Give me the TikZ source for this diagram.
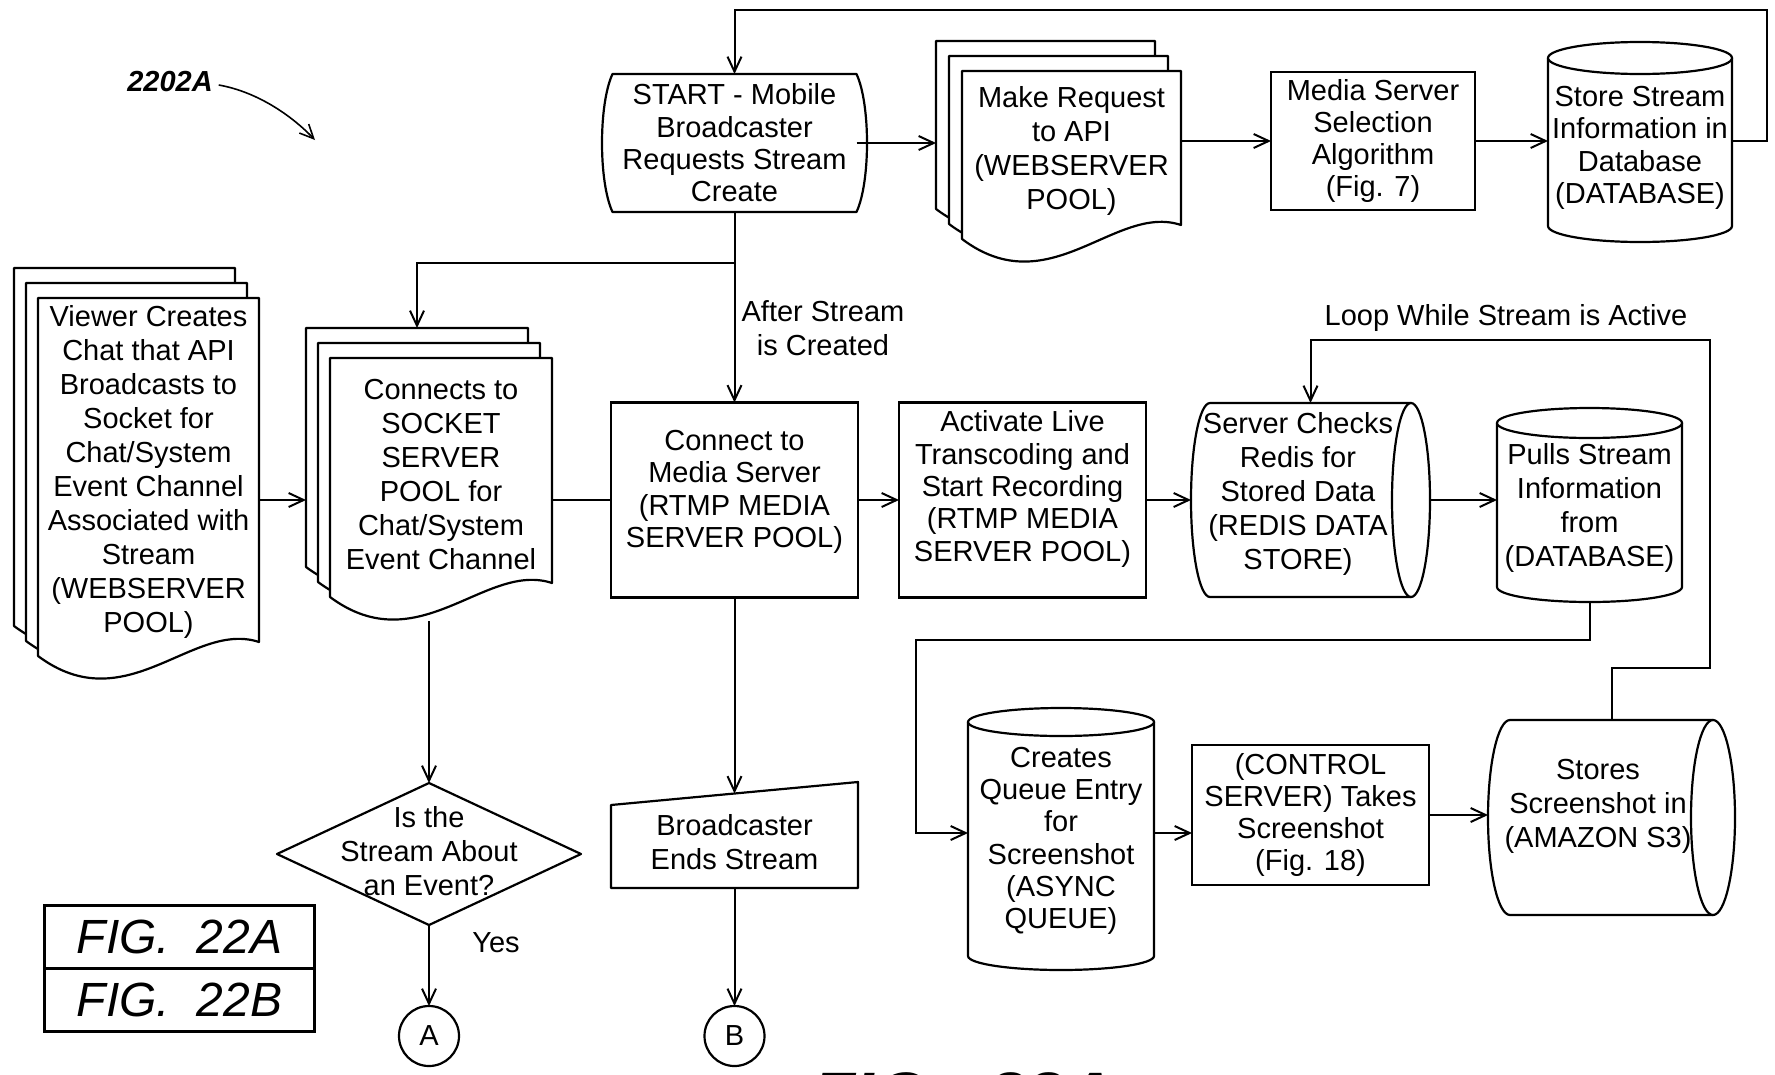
\documentclass[tikz,border=0pt]{standalone}
\usepackage{fontspec}
\setmainfont{Liberation Sans}
\usetikzlibrary{arrows.meta,calc,backgrounds}
\newcommand\mainfs{\fontsize{29}{34}\selectfont}
\newcommand\tightfs{\fontsize{29}{32.3}\selectfont}
\newcommand\figfs{\fontsize{48}{50}\selectfont\itshape}
\tikzset{
  every node/.style={inner sep=0pt, outer sep=0pt},
  txt/.style={font=\mainfs, align=center},
  ghost/.style={txt, rectangle},
  box/.style={txt, rectangle, draw, line width=2.2pt},
  outline/.style={draw, fill=white, line width=2.2pt, line join=round},
  wire/.style={line width=2pt},
  conn/.style={wire, -{Straight Barb[length=15pt,width=14pt]}},
  refarrow/.style={line width=1.6pt, -{Straight Barb[length=14pt,width=13pt]}},
  conncirc/.style={circle, draw, line width=2.2pt, minimum size=60, font=\mainfs},
}
% document sheet: left, top, right, bottom of right side
\newcommand\docsheet[4]{%
  \pgfmathsetmacro\zzl{#1}\pgfmathsetmacro\zzt{#2}\pgfmathsetmacro\zzr{#3}\pgfmathsetmacro\zzb{#4}%
  \pgfmathsetmacro\zzw{\zzr-\zzl}%
  \path[outline] (\zzl,\zzt) -- (\zzr,\zzt) -- (\zzr,\zzb)
    .. controls ({\zzr-0.3*\zzw},{\zzb-22}) and ({\zzl+0.4*\zzw},{\zzb+80}) .. (\zzl,{\zzb+14}) -- cycle;}
\newcommand\docstack[6]{%
  \docsheet{#1-2*#5}{#2-2*#6}{#3-2*#5}{#4-2*#6}%
  \docsheet{#1-#5}{#2-#6}{#3-#5}{#4-#6}%
  \docsheet{#1}{#2}{#3}{#4}}
% vertical cylinder: left, top, right, bottom, y radius
\newcommand\vcyl[5]{%
  \pgfmathsetmacro\zzl{#1}\pgfmathsetmacro\zzt{#2}\pgfmathsetmacro\zzr{#3}\pgfmathsetmacro\zzb{#4}\pgfmathsetmacro\zzry{#5}%
  \pgfmathsetmacro\zzcx{(\zzl+\zzr)/2}\pgfmathsetmacro\zzrx{(\zzr-\zzl)/2}%
  \pgfmathsetmacro\zzu{\zzt+\zzry}\pgfmathsetmacro\zzd{\zzb-\zzry}%
  \path[outline] (\zzl,\zzu) -- (\zzl,\zzd)
    .. controls (\zzl,{\zzd+0.552*\zzry}) and ({\zzcx-0.552*\zzrx},\zzb) .. (\zzcx,\zzb)
    .. controls ({\zzcx+0.552*\zzrx},\zzb) and (\zzr,{\zzd+0.552*\zzry}) .. (\zzr,\zzd)
    -- (\zzr,\zzu) -- cycle;
  \path[outline] (\zzcx,\zzu) ellipse [x radius=\zzrx pt, y radius=\zzry pt];}
% horizontal cylinder: left, top, right, bottom, x radius
\newcommand\hcyl[5]{%
  \pgfmathsetmacro\zzl{#1}\pgfmathsetmacro\zzt{#2}\pgfmathsetmacro\zzr{#3}\pgfmathsetmacro\zzb{#4}\pgfmathsetmacro\zzrx{#5}%
  \pgfmathsetmacro\zzcy{(\zzt+\zzb)/2}\pgfmathsetmacro\zzry{(\zzb-\zzt)/2}%
  \pgfmathsetmacro\zzL{\zzl+\zzrx}\pgfmathsetmacro\zzR{\zzr-\zzrx}%
  \path[outline] (\zzL,\zzt) -- (\zzR,\zzt) -- (\zzR,\zzb) -- (\zzL,\zzb)
    .. controls ({\zzL-0.552*\zzrx},\zzb) and (\zzl,{\zzcy+0.552*\zzry}) .. (\zzl,\zzcy)
    .. controls (\zzl,{\zzcy-0.552*\zzry}) and ({\zzL-0.552*\zzrx},\zzt) .. (\zzL,\zzt) -- cycle;
  \path[outline] (\zzR,\zzcy) ellipse [x radius=\zzrx pt, y radius=\zzry pt];}
\begin{document}
\begin{tikzpicture}[x=1pt,y=-1pt]
\useasboundingbox (0,0) rectangle (1775,1074);

% ---------- row 1
\node[ghost, minimum width=244, minimum height=138, font=\tightfs] (start) at (734.5,143) {START - Mobile\\Broadcaster\\Requests Stream\\Create};
\node[ghost, minimum width=245, minimum height=193] (mreq) at (1058.5,138.5) {};
\node[txt] (mreqt) at (1071.5,151) {Make Request\\to API\\(WEBSERVER\\POOL)};
\node[box, minimum width=204, minimum height=138, font=\tightfs] (sel) at (1373,141) {Media Server\\Selection\\Algorithm\\(Fig. 7)};
\node[ghost, minimum width=184, minimum height=200] (store) at (1640,142) {};
\node[txt, font=\tightfs] (storet) at (1640,148) {Store Stream\\Information in\\Database\\(DATABASE)};

% ---------- row 2
\node[ghost, minimum width=245, minimum height=405] (viewer) at (136.5,470.5) {};
\node[txt] (viewert) at (148.5,472) {Viewer Creates\\Chat that API\\Broadcasts to\\Socket for\\Chat/System\\Event Channel\\Associated with\\Stream\\(WEBSERVER\\POOL)};
\node[ghost, minimum width=246, minimum height=293] (conns) at (429,474.5) {};
\node[txt] (connst) at (441,475) {Connects to\\SOCKET\\SERVER\\POOL for\\Chat/System\\Event Channel};
\node[box, minimum width=247, minimum height=195] (connect) at (734.5,500) {};
\node[txt, font=\tightfs] (connectt) at (734.5,492) {Connect to\\Media Server\\(RTMP MEDIA\\SERVER POOL)};
\node[box, minimum width=247, minimum height=195] (activate) at (1022.5,500) {};
\node[txt, font=\tightfs] (activatet) at (1022.5,489) {Activate Live\\Transcoding and\\Start Recording\\(RTMP MEDIA\\SERVER POOL)};
\node[ghost, minimum width=239, minimum height=194] (chk) at (1310.5,500) {};
\node[txt] (chkt) at (1298,494) {Server Checks\\Redis for\\Stored Data\\(REDIS DATA\\STORE)};
\node[ghost, minimum width=185, minimum height=194] (pulls) at (1589.5,505) {};
\node[txt] (pullst) at (1589.5,508) {Pulls Stream\\Information\\from\\(DATABASE)};
\node[txt] (looplbl) at (1506,318) {Loop While Stream is Active};
\node[txt] (afterlbl) at (823,328) {After Stream\\is Created};

% ---------- row 3
\node[ghost, minimum width=186, minimum height=262] (creates) at (1061,839) {};
\node[txt, font=\tightfs] (createst) at (1061,841) {Creates\\Queue Entry\\for\\Screenshot\\(ASYNC\\QUEUE)};
\node[box, minimum width=237, minimum height=140, font=\tightfs] (control) at (1310.5,815) {(CONTROL\\SERVER) Takes\\Screenshot\\(Fig. 18)};
\node[ghost, minimum width=247, minimum height=195] (stores) at (1611.5,817.5) {};
\node[txt] (storest) at (1598,806) {Stores\\Screenshot in\\(AMAZON S3)};
\node[ghost, minimum width=304, minimum height=142] (dia) at (429,854) {};
\node[txt] (diat) at (429,851) {Is the\\Stream About\\an Event?};
\node[ghost, minimum width=247, minimum height=106] (bcast) at (734.5,835) {};
\node[txt] (bcastt) at (734.5,842) {Broadcaster\\Ends Stream};
\node[txt] (yes) at (496,943) {Yes};
\node[conncirc] (A) at (429,1036) {A};
\node[conncirc] (B) at (734.5,1036) {B};
\node[box, minimum width=270, minimum height=63, font=\figfs] (fig1) at (179.5,937) {FIG.\ \ 22A};
\node[box, minimum width=270, minimum height=63, font=\figfs] (fig2) at (179.5,1000) {FIG.\ \ 22B};
\node[font=\fontsize{29}{34}\selectfont\bfseries\itshape] (ref) at (170,82) {2202A};
\coordinate (reftip) at (315,140);

% ---------- outlines
\begin{pgfonlayer}{background}
  \path[outline] (start.north west) -- (start.north east)
    .. controls ($(start.north east)+(14,30)$) and ($(start.south east)+(14,-30)$) .. (start.south east)
    -- (start.south west)
    .. controls ($(start.south west)+(-14,-30)$) and ($(start.north west)+(-14,30)$) .. (start.north west) -- cycle;
  \docstack{962}{71}{1181}{225}{13}{15}
  \vcyl{1548}{42}{1732}{242}{16}
  \docstack{38}{298}{259}{642}{12}{15}
  \docstack{330}{358}{552}{583}{12}{15}
  \hcyl{1191}{403}{1430}{597}{19}
  \vcyl{1497}{408}{1682}{602}{15}
  \vcyl{968}{708}{1154}{970}{14}
  \hcyl{1488}{720}{1735}{915}{22}
  \path[outline] (dia.north) -- (dia.east) -- (dia.south) -- (dia.west) -- cycle;
  \path[outline] (bcast.south west) -- ($(bcast.north west)+(0,23)$) -- (bcast.north east) -- (bcast.south east) -- cycle;
\end{pgfonlayer}

% ---------- connectors
\draw[conn] (start.east) -- (start.east -| mreq.west);
\draw[conn] (mreq.east |- sel.west) -- (sel.west);
\draw[conn] (sel.east) -- (sel.east -| store.west);
\draw[conn] (sel.east -| store.east) -- ++(35,0) -- ++(0,-131) -| (start.north);
\coordinate (brpt) at ($(start.south)+(0,51)$);
\draw[conn] (start.south) -- (connect.north);
\draw[conn] (brpt) -| ($(conns.north)+(-12,0)$);
\draw[conn] (viewer.east |- connect.west) -- (conns.west |- connect.west);
\draw[wire] (conns.east |- connect.west) -- (connect.west);
\draw[conn] (connect.east) -- (activate.west);
\draw[conn] (activate.east) -- (chk.west);
\draw[conn] (chk.east) -- (chk.east -| pulls.west);
\coordinate (cqin) at ($(creates.west)+(0,-6)$);
\coordinate (cqout) at ($(creates.east)+(0,-6)$);
\draw[conn] (pulls.south) -- ++(0,38) -| ($(cqin)+(-52,0)$) -- (cqin);
\draw[conn] (cqout) -- (cqout -| control.west);
\draw[conn] (control.east) -- (control.east -| stores.west);
\coordinate (loopR) at (1710,340);
\draw[conn] (stores.north) -- ++(0,-52) -| (loopR) -| (chk.north);
\draw[conn] (conns.south) -- (dia.north);
\draw[conn] (dia.south) -- (A.north);
\draw[conn] (connect.south) -- ($(bcast.north)+(0,11.5)$);
\draw[conn] (bcast.south) -- (B.north);
\draw[refarrow] ($(ref.east)+(6,3)$) .. controls (258,92) and (292,116) .. (reftip);

% ---------- cut-off caption at the bottom edge
\begin{scope}
  \clip (0,0) rectangle (1775,1074);
  \node[anchor=base west, font=\fontsize{70}{70}\selectfont\bfseries\itshape] (bigfig) at (812,1121) {FIG.\ \ 22A};
\end{scope}
\end{tikzpicture}
\end{document}
